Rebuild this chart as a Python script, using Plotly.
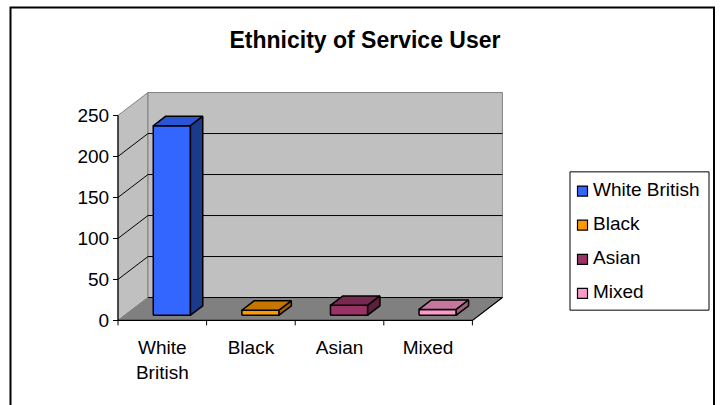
import plotly.graph_objects as go

# ---------------- data ----------------
categories = ["White British", "Black", "Asian", "Mixed"]
tick_labels = ["White<br>British", "Black", "Asian", "Mixed"]
values = [231, 6, 12, 7]
y_ticks = [0, 50, 100, 150, 200, 250]
title_text = "Ethnicity of Service User"

front_colors = ["#3366FF", "#FF9900", "#993366", "#FF99CC"]
top_colors = ["#2A55D6", "#C67600", "#77294F", "#C5779D"]
side_colors = ["#1C3A8C", "#9C5E00", "#5A1F3B", "#A05E7E"]

# ---------------- geometry (pixels) ----------------
W, H = 723, 405
X0_PX, CAT_PX = 118, 88.6        # front-left corner x and category width
Y0_PX, VAL_PX = 322, 0.824       # zero line y and pixels per unit
DEPTH_X_PX, DEPTH_Y_PX = 30, 23  # oblique depth offset
BAR_U0, BAR_U1 = 0.32, 0.74      # bar extent inside a category
BAR_D0, BAR_D1 = 0.23, 0.64      # bar extent in depth
FONT = "Liberation Sans, Arial, sans-serif"

n = len(categories)
ymax = max(y_ticks)
DX = DEPTH_X_PX / CAT_PX
DV = DEPTH_Y_PX / VAL_PX
PAD_U, PAD_V = 0.15, 10

xr = [-PAD_U, n + DX + PAD_U]
yr = [-PAD_V, ymax + DV + PAD_V]
px_left = X0_PX + xr[0] * CAT_PX
px_right = X0_PX + xr[1] * CAT_PX
px_bottom = Y0_PX - yr[0] * VAL_PX
px_top = Y0_PX - yr[1] * VAL_PX


def P(u, v, d):
    return (u + d * DX, v + d * DV)


def poly(pts, fill=None, color="#000", width=1.0):
    xs = [p[0] for p in pts]
    ys = [p[1] for p in pts]
    if fill is not None:
        xs.append(xs[0]); ys.append(ys[0])
        return go.Scatter(x=xs, y=ys, mode="lines", fill="toself", fillcolor=fill,
                          line=dict(color=color, width=width), hoverinfo="skip",
                          showlegend=False)
    return go.Scatter(x=xs, y=ys, mode="lines", line=dict(color=color, width=width),
                      hoverinfo="skip", showlegend=False)


fig = go.Figure()

# walls and floor
fig.add_trace(poly([P(0, 0, 0), P(0, ymax, 0), P(0, ymax, 1), P(0, 0, 1)],
                   fill="#C0C0C0", color="#808080", width=1))
fig.add_trace(poly([P(0, 0, 1), P(n, 0, 1), P(n, ymax, 1), P(0, ymax, 1)],
                   fill="#C0C0C0", color="#808080", width=1))
fig.add_trace(poly([P(0, 0, 0), P(n, 0, 0), P(n, 0, 1), P(0, 0, 1)],
                   fill="#808080", color="#808080", width=1))

# gridlines on the walls
for t in y_ticks[1:-1]:
    fig.add_trace(poly([P(0, t, 0), P(0, t, 1), P(n, t, 1)], color="#000", width=1))
fig.add_trace(poly([P(0, 0, 1), P(n, 0, 1)], color="#000", width=1))

# axis lines
fig.add_trace(poly([P(0, 0, 0), P(n, 0, 0), P(n, 0, 1)], color="#000", width=1.2))
fig.add_trace(poly([P(0, 0, 0), P(0, ymax, 0)], color="#000", width=1.2))
for i in range(n + 1):
    fig.add_trace(poly([P(i, 0, 0), P(i, -5 / VAL_PX, 0)], color="#000", width=1))

# bars
for i, val in enumerate(values):
    u0, u1 = i + BAR_U0, i + BAR_U1
    fig.add_trace(poly([P(u0, 0, BAR_D0), P(u1, 0, BAR_D0), P(u1, val, BAR_D0), P(u0, val, BAR_D0)],
                       fill=front_colors[i], color="#000", width=1.5))
    fig.add_trace(poly([P(u0, val, BAR_D0), P(u1, val, BAR_D0), P(u1, val, BAR_D1), P(u0, val, BAR_D1)],
                       fill=top_colors[i], color="#000", width=1.5))
    fig.add_trace(poly([P(u1, 0, BAR_D0), P(u1, 0, BAR_D1), P(u1, val, BAR_D1), P(u1, val, BAR_D0)],
                       fill=side_colors[i], color="#000", width=1.5))

# legend (drawn on its own small axes)
LEG_L, LEG_R, LEG_T, LEG_B = 570, 709, 172.7, 311.7
ROW0, ROW_STEP = 19.3, 34.3
leg_h = LEG_B - LEG_T
rows = list(range(n))
fig.add_trace(go.Scatter(x=[12.5] * n, y=rows, mode="markers", xaxis="x2", yaxis="y2",
                         marker=dict(symbol="square", size=10, color=front_colors,
                                     line=dict(color="#000", width=1.2)),
                         hoverinfo="skip", showlegend=False))
fig.add_trace(go.Scatter(x=[23] * n, y=rows, mode="text", xaxis="x2", yaxis="y2",
                         text=categories, textposition="middle right",
                         textfont=dict(family=FONT, size=19, color="#000"),
                         hoverinfo="skip", showlegend=False))

fig.update_layout(
    width=W, height=H,
    margin=dict(l=0, r=0, t=0, b=0),
    paper_bgcolor="#FFFFFF", plot_bgcolor="rgba(0,0,0,0)",
    showlegend=False,
    font=dict(family=FONT, size=19, color="#000"),
    title=dict(text=title_text, x=365 / W, y=1 - 40 / H, xanchor="center", yanchor="middle",
               font=dict(family=FONT, size=23, color="#000", weight="bold")),
    xaxis=dict(domain=[px_left / W, px_right / W], range=xr, showgrid=False, zeroline=False,
               showline=False, tickvals=[i + 0.5 for i in range(n)], ticktext=tick_labels,
               ticks="outside", ticklen=2, tickcolor="rgba(0,0,0,0)",
               tickfont=dict(family=FONT, size=19, color="#000"), fixedrange=True),
    yaxis=dict(domain=[(H - px_bottom) / H, (H - px_top) / H], range=yr, showgrid=False,
               zeroline=False, showline=False, anchor="free", position=X0_PX / W,
               tickvals=y_ticks, ticks="outside", ticklen=5, tickcolor="#000",
               tickfont=dict(family=FONT, size=19, color="#000"), fixedrange=True),
    xaxis2=dict(domain=[LEG_L / W, LEG_R / W], range=[0, LEG_R - LEG_L], visible=False,
                anchor="y2", fixedrange=True),
    yaxis2=dict(domain=[(H - LEG_B) / H, (H - LEG_T) / H],
                range=[(leg_h - ROW0) / ROW_STEP, -ROW0 / ROW_STEP], visible=False,
                anchor="x2", fixedrange=True),
    shapes=[
        dict(type="rect", xref="x2 domain", yref="y2 domain", x0=0, x1=1, y0=0, y1=1,
             line=dict(color="#000", width=1), fillcolor="#FFFFFF", layer="below"),
        dict(type="rect", xref="paper", yref="paper", x0=10.5 / W, x1=714 / W,
             y0=-0.05, y1=1 - 7.5 / H, line=dict(color="#000", width=2),
             fillcolor="rgba(0,0,0,0)", layer="above"),
    ],
)

fig.write_html("out.html", config={"displayModeBar": False},
               post_script="document.body.style.margin='0';document.body.style.padding='0';")
